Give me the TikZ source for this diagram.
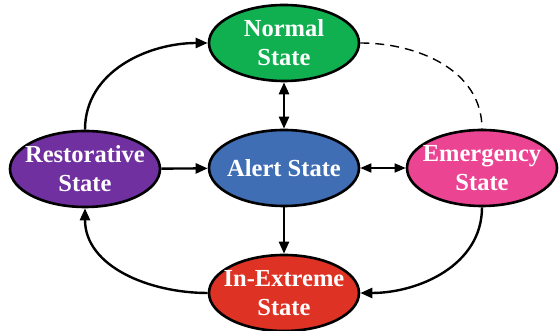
\documentclass[tikz,border=0pt]{standalone}
\usepackage{fontspec}
\setmainfont{Liberation Serif}
\usetikzlibrary{shapes.geometric,arrows.meta}
\definecolor{cNormal}{RGB}{16,176,80}
\definecolor{cAlert}{RGB}{64,110,180}
\definecolor{cRest}{RGB}{112,48,160}
\definecolor{cEmerg}{RGB}{234,68,146}
\definecolor{cExtreme}{RGB}{222,50,36}
\tikzset{
  state/.style={ellipse, draw=black, line width=2.6pt, minimum width=150pt,
    minimum height=76pt, inner xsep=-40pt, inner ysep=-30pt, align=center, text=white,
    font=\fontsize{24.5}{29}\selectfont\bfseries},
  link/.style={line width=2.4pt, -{Triangle[length=12pt,width=10pt]}},
  biglink/.style={line width=2.4pt, {Triangle[length=12pt,width=10pt]}-{Triangle[length=12pt,width=10pt]}},
  thinlink/.style={line width=1.6pt, {Triangle[length=11pt,width=9pt]}-{Triangle[length=11pt,width=9pt]}},
  dashlink/.style={line width=1.4pt, dash pattern=on 9pt off 6pt}
}
\begin{document}
\begin{tikzpicture}[x=1pt,y=1pt]
\useasboundingbox (0,0) rectangle (560,331);
\node[state, fill=cNormal] (normal) at (284,288) {Normal\\State};
\node[state, fill=cAlert] (alert) at (284,163) {Alert State};
\node[state, fill=cRest] (rest) at (85,162) {Restorative\\State};
\node[state, fill=cEmerg] (emerg) at (482,163) {Emergency\\State};
\node[state, fill=cExtreme] (extreme) at (284,38) {In-Extreme\\State};

\draw[biglink] (normal) -- (alert);
\draw[link] (rest) -- (alert);
\draw[link] (alert) -- (extreme);
\draw[thinlink] (alert) -- (emerg);
\draw[link] (rest.north) to[out=90,in=180] (normal.west);
\draw[link] (emerg.south) to[out=-90,in=0] (extreme.east);
\draw[link] (extreme.west) to[out=180,in=-90] (rest.south);
\draw[dashlink] (normal.east) to[out=0,in=90] (emerg.north);
\end{tikzpicture}
\end{document}
